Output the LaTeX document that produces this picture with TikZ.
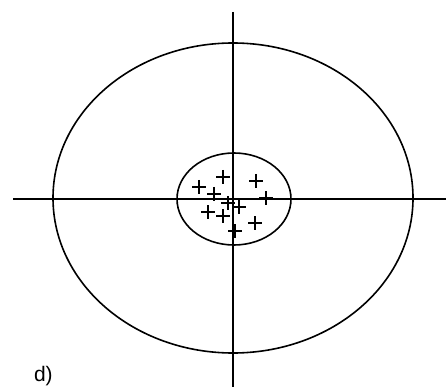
\documentclass[tikz,border=0pt]{standalone}
\usepackage{fontspec}
\setmainfont{Liberation Sans}
\begin{document}
\begin{tikzpicture}[x=1pt, y=-1pt, line width=2pt]
	\useasboundingbox (0, 0) rectangle (446, 387);
	\draw[line width=1.6pt] (233, 198) ellipse (180 and 155);
	\draw[line width=1.6pt] (234, 199) ellipse (57 and 46);
	\draw (13, 199)--(446, 199);
	\draw (233, 12)--(233, 387);
	
	\foreach \px/\py in {199/187, 223/177, 256/181, 266/198, 214/194, 208/212, 223/216, 239/207, 255/223, 235/231, 228/203}
		\draw[line width=1.4pt] (\px-7, \py)--(\px+7, \py) (\px, \py-7)--(\px, \py+7);
	
	\node[font=\fontsize{21}{24}\selectfont, anchor=base west, inner sep=0pt] (lbl) at (33, 381) {d)};
\end{tikzpicture}
\end{document}
